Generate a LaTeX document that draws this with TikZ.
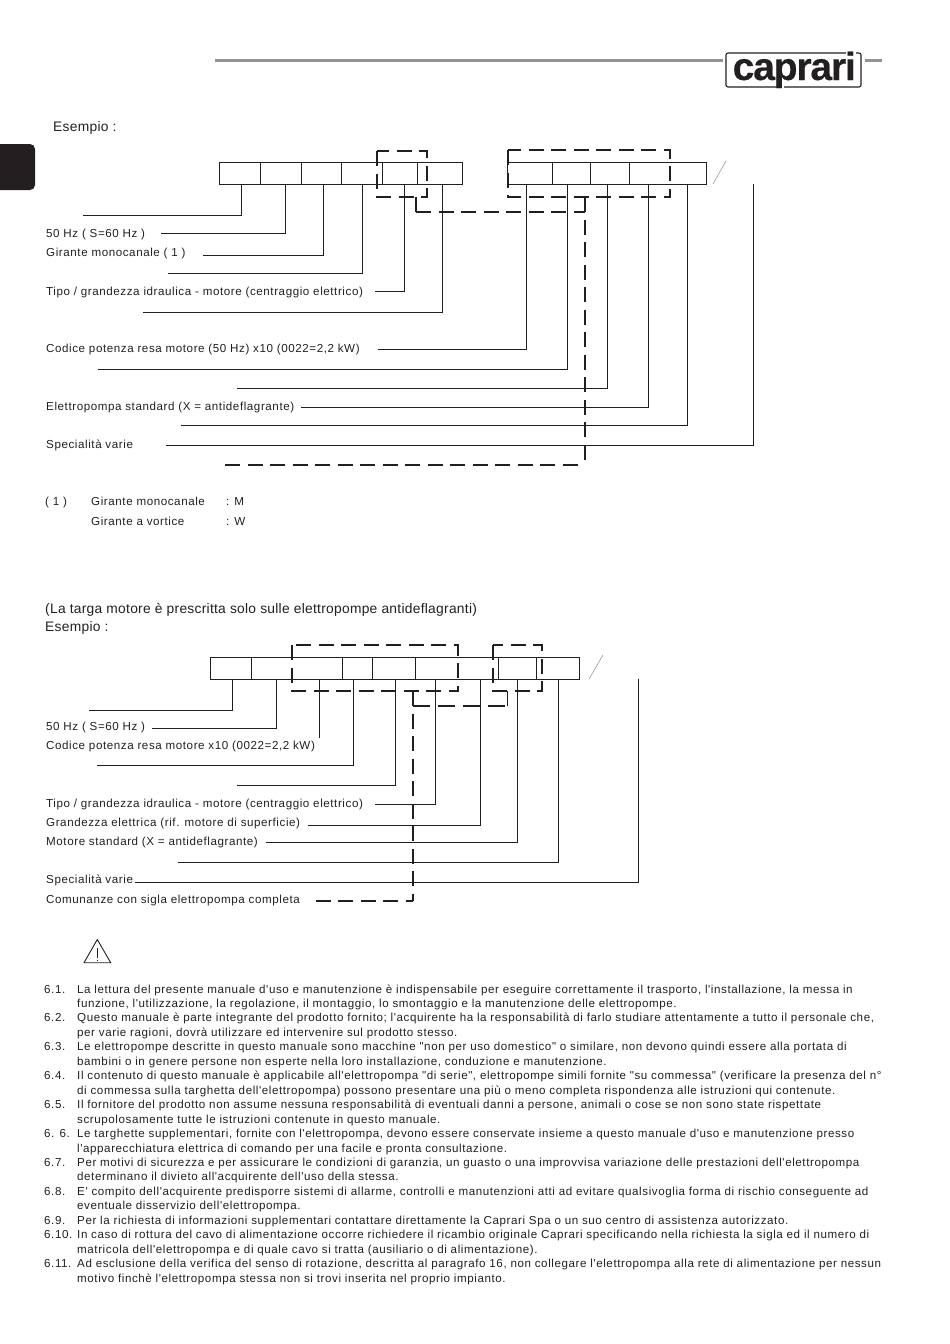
\documentclass[tikz,border=0pt]{standalone}
\usepackage{fontspec}
\setmainfont{Liberation Sans}[Ligatures=TeXOff,LetterSpace=2]
\newfontfamily\labelfont{Liberation Sans}[Ligatures=TeXOff,LetterSpace=5]
\newfontfamily\logofont{Liberation Sans Bold}[Ligatures=TeXOff,LetterSpace=-3,FakeBold=0.4]
\definecolor{ink}{HTML}{231F20}
\definecolor{rulegrey}{HTML}{939393}
\begin{document}
\begin{tikzpicture}[
    x=1pt, y=-1pt,
    every node/.style={text=ink},
    cell/.style={rectangle, draw=ink, line width=0.7pt, inner sep=0pt, minimum height=22pt},
    lead/.style={draw=ink, line width=0.7pt},
    group/.style={draw=ink, line width=1.4pt, dash pattern=on 15pt off 7.5pt},
    slash/.style={draw=ink!60, line width=0.4pt},
    head/.style={draw=rulegrey, line width=2.6pt},
    label/.style={anchor=base west, inner sep=0pt, font=\labelfont\fontsize{11.6}{13}\selectfont},
    title/.style={anchor=base west, inner sep=0pt, font=\fontsize{13.8}{15}\selectfont},
    body/.style={anchor=base west, inner sep=0pt, font=\labelfont\fontsize{11.6}{13}\selectfont}
  ]
  \useasboundingbox (0,0) rectangle (950,1344);
  \fill[ink, rounded corners=5pt] (-8,144) rectangle (35,190);
  \coordinate (h1) at (214.5,60.5);
  \coordinate (h2) at (722.5,60.5);
  \coordinate (h3) at (865,60.5);
  \coordinate (h4) at (882,60.5);
  \draw[head] (h1) -- (h2);
  \draw[head] (h3) -- (h4);
  \node[anchor=base west, inner sep=0pt, font=\logofont\fontsize{39}{39}\selectfont] (logo) at (732.5,80) {caprari};
  \draw[ink, line width=1.1pt, rounded corners=2pt] (777,87) -- (726,87) -- (726,53) -- (846,53);
  \draw[ink, line width=1.1pt, rounded corners=2pt] (856,53) -- (861,53) -- (861,87) -- (784,87);
  \node[title] (ex1) at (53,131) {Esempio :};
  \node[cell, minimum width=41pt] (a1) at (240,173.5) {};
  \node[cell, minimum width=41pt] (a2) at (281,173.5) {};
  \node[cell, minimum width=40pt] (a3) at (321,173.5) {};
  \node[cell, minimum width=41pt] (a4) at (361.5,173.5) {};
  \node[cell, minimum width=35pt] (a5) at (399.5,173.5) {};
  \node[cell, minimum width=45pt] (a6) at (439.5,173.5) {};
  \node[cell, minimum width=45pt] (b1) at (530,173.5) {};
  \node[cell, minimum width=38.5pt] (b2) at (571.5,173.5) {};
  \node[cell, minimum width=38.5pt] (b3) at (610,173.5) {};
  \node[cell, minimum width=77pt] (b4) at (667.5,173.5) {};
  \draw[group] (377,151) rectangle (427,197);
  \draw[group] (508,150) rectangle (670,197);
  \coordinate (g1) at (416,197);
  \coordinate (g1b) at (416,212);
  \coordinate (g2) at (585,197);
  \coordinate (g2b) at (585,212);
  \coordinate (g3) at (225,465);
  \coordinate (g3b) at (585,465);
  \draw[group] (g1) -- (g1b);
  \draw[group] (g1b) -- (g2b);
  \draw[group] (g2) -- (g3b);
  \draw[group] (g3) -- (g3b);
  \coordinate (s1) at (713,184);
  \coordinate (s2) at (726,161);
  \draw[slash] (s1) -- (s2);
  \coordinate (e1) at (83,215);
  \coordinate (e2) at (161,233);
  \coordinate (e3) at (203,255);
  \coordinate (e4) at (168,273);
  \coordinate (e5) at (374.5,291);
  \coordinate (e6) at (142.5,312);
  \coordinate (e7) at (378,349);
  \coordinate (e8) at (98,369);
  \coordinate (e9) at (237,388);
  \coordinate (e10) at (301,407.5);
  \coordinate (e11) at (181,425.5);
  \coordinate (e12) at (166,445);
  \coordinate (t12) at (753.5,184);
  \draw[lead] (241.5,184.5) |- (e1);
  \draw[lead] (285.5,184.5) |- (e2);
  \draw[lead] (323.5,184.5) |- (e3);
  \draw[lead] (362.5,184.5) |- (e4);
  \draw[lead] (404.5,184.5) |- (e5);
  \draw[lead] (442.5,184.5) |- (e6);
  \draw[lead] (526.5,184.5) |- (e7);
  \draw[lead] (567.5,184.5) |- (e8);
  \draw[lead] (607.5,184.5) |- (e9);
  \draw[lead] (648.5,184.5) |- (e10);
  \draw[lead] (687.5,184.5) |- (e11);
  \draw[lead] (t12) |- (e12);
  \node[label] (l1) at (46,237) {50 Hz ( S=60 Hz )};
  \node[label] (l2) at (46,256) {Girante monocanale ( 1 )};
  \node[label] (l3) at (46,295) {Tipo / grandezza idraulica - motore (centraggio elettrico)};
  \node[label] (l4) at (46,352.5) {Codice potenza resa motore (50 Hz) x10 (0022=2,2 kW)};
  \node[label] (l5) at (46,410) {Elettropompa standard (X = antideflagrante)};
  \node[label] (l6) at (46,448) {Specialità varie};
  \node[label] (n1) at (45,505) {( 1 )};
  \node[label] (n2) at (91,505) {Girante monocanale};
  \node[label] (n3) at (226,505) {: M};
  \node[label] (n4) at (91,525) {Girante a vortice};
  \node[label] (n5) at (226,525) {: W};
  \node[title] (tg) at (45,613) {(La targa motore è prescritta solo sulle elettropompe antideflagranti)};
  \node[title] (ex2) at (45,631) {Esempio :};
  \node[cell, minimum width=41pt] (c1) at (231,668.5) {};
  \node[cell, minimum width=91pt] (c2) at (296.5,668.5) {};
  \node[cell, minimum width=30pt] (c3) at (357.5,668.5) {};
  \node[cell, minimum width=43pt] (c4) at (394,668.5) {};
  \node[cell, minimum width=83pt] (c5) at (457,668.5) {};
  \node[cell, minimum width=38.5pt] (c6) at (517.5,668.5) {};
  \node[cell, minimum width=42.5pt] (c7) at (558,668.5) {};
  \draw[group] (292,645) rectangle (458,691);
  \draw[group] (493,645) rectangle (542,691);
  \coordinate (g4) at (507.5,691);
  \coordinate (g4b) at (507.5,706);
  \coordinate (g5) at (413,691);
  \coordinate (g5b) at (413,706);
  \coordinate (g6) at (315.5,901);
  \coordinate (g6b) at (413,901);
  \draw[group] (g4) -- (g4b);
  \draw[group, dash pattern=on 17pt off 8pt] (g5b) -- (g4b);
  \draw[group] (g5) -- (g6b);
  \draw[group] (g6) -- (g6b);
  \coordinate (s3) at (589,679);
  \coordinate (s4) at (603,655);
  \draw[slash] (s3) -- (s4);
  \coordinate (f1) at (89,710.5);
  \coordinate (f2) at (152,728.5);
  \coordinate (f3) at (319.5,738);
  \coordinate (f4) at (97,765.5);
  \coordinate (f5) at (237,785.5);
  \coordinate (f6) at (375,804);
  \coordinate (f7) at (308,825.5);
  \coordinate (f8) at (266,842);
  \coordinate (f9) at (178,862.5);
  \coordinate (f10) at (135,882.5);
  \coordinate (t10) at (638.5,678.5);
  \draw[lead] (232.5,679.5) |- (f1);
  \draw[lead] (276.5,679.5) |- (f2);
  \draw[lead] (319.5,679.5) -- (f3);
  \draw[lead] (353.5,679.5) |- (f4);
  \draw[lead] (395.5,679.5) |- (f5);
  \draw[lead] (435.5,679.5) |- (f6);
  \draw[lead] (480.5,679.5) |- (f7);
  \draw[lead] (517.5,679.5) |- (f8);
  \draw[lead] (558.5,679.5) |- (f9);
  \draw[lead] (t10) |- (f10);
  \node[label] (m1) at (46,730) {50 Hz ( S=60 Hz )};
  \node[label] (m2) at (46,749) {Codice potenza resa motore x10 (0022=2,2 kW)};
  \node[label] (m3) at (46,807) {Tipo / grandezza idraulica - motore (centraggio elettrico)};
  \node[label] (m4) at (46,826) {Grandezza elettrica (rif. motore di superficie)};
  \node[label] (m5) at (46,845) {Motore standard (X = antideflagrante)};
  \node[label] (m6) at (46,883) {Specialità varie};
  \node[label] (m7) at (46,903) {Comunanze con sigla elettropompa completa};
  \coordinate (w1) at (97.3,939.5);
  \coordinate (w2) at (84,962.7);
  \coordinate (w3) at (110.7,962.7);
  \draw[ink, line width=0.9pt, line join=round] (w1) -- (w2) -- (w3) -- cycle;
  \draw[ink, line width=0.6pt] (97.3,948) -- (97.3,957.5) (97.3,959.5) -- (97.3,961);
  \node[body] (p1) at (44,993) {6.1.};
  \node[body] (q1) at (77,993) {La lettura del presente manuale d'uso e manutenzione è indispensabile per eseguire correttamente il trasporto, l'installazione, la messa in};
  \node[body] (q2) at (77,1007.5) {funzione, l'utilizzazione, la regolazione, il montaggio, lo smontaggio e la manutenzione delle elettropompe.};
  \node[body] (p3) at (44,1021.9) {6.2.};
  \node[body] (q3) at (77,1021.9) {Questo manuale è parte integrante del prodotto fornito; l'acquirente ha la responsabilità di farlo studiare attentamente a tutto il personale che,};
  \node[body] (q4) at (77,1036.4) {per varie ragioni, dovrà utilizzare ed intervenire sul prodotto stesso.};
  \node[body] (p5) at (44,1050.8) {6.3.};
  \node[body] (q5) at (77,1050.8) {Le elettropompe descritte in questo manuale sono macchine "non per uso domestico" o similare, non devono quindi essere alla portata di};
  \node[body] (q6) at (77,1065.3) {bambini o in genere persone non esperte nella loro installazione, conduzione e manutenzione.};
  \node[body] (p7) at (44,1079.7) {6.4.};
  \node[body] (q7) at (77,1079.7) {Il contenuto di questo manuale è applicabile all'elettropompa "di serie", elettropompe simili fornite "su commessa" (verificare la presenza del n°};
  \node[body] (q8) at (77,1094.2) {di commessa sulla targhetta dell'elettropompa) possono presentare una più o meno completa rispondenza alle istruzioni qui contenute.};
  \node[body] (p9) at (44,1108.6) {6.5.};
  \node[body] (q9) at (77,1108.6) {Il fornitore del prodotto non assume nessuna responsabilità di eventuali danni a persone, animali o cose se non sono state rispettate};
  \node[body] (q10) at (77,1123.1) {scrupolosamente tutte le istruzioni contenute in questo manuale.};
  \node[body] (p11) at (44,1137.5) {6. 6.};
  \node[body] (q11) at (77,1137.5) {Le targhette supplementari, fornite con l'elettropompa, devono essere conservate insieme a questo manuale d'uso e manutenzione presso};
  \node[body] (q12) at (77,1152) {l'apparecchiatura elettrica di comando per una facile e pronta consultazione.};
  \node[body] (p13) at (44,1166.4) {6.7.};
  \node[body] (q13) at (77,1166.4) {Per motivi di sicurezza e per assicurare le condizioni di garanzia, un guasto o una improvvisa variazione delle prestazioni dell'elettropompa};
  \node[body] (q14) at (77,1180.9) {determinano il divieto all'acquirente dell'uso della stessa.};
  \node[body] (p15) at (44,1195.3) {6.8.};
  \node[body] (q15) at (77,1195.3) {E' compito dell'acquirente predisporre sistemi di allarme, controlli e manutenzioni atti ad evitare qualsivoglia forma di rischio conseguente ad};
  \node[body] (q16) at (77,1209.8) {eventuale disservizio dell'elettropompa.};
  \node[body] (p17) at (44,1224.2) {6.9.};
  \node[body] (q17) at (77,1224.2) {Per la richiesta di informazioni supplementari contattare direttamente la Caprari Spa o un suo centro di assistenza autorizzato.};
  \node[body] (p18) at (44,1238.7) {6.10.};
  \node[body] (q18) at (77,1238.7) {In caso di rottura del cavo di alimentazione occorre richiedere il ricambio originale Caprari specificando nella richiesta la sigla ed il numero di};
  \node[body] (q19) at (77,1253.1) {matricola dell'elettropompa e di quale cavo si tratta (ausiliario o di alimentazione).};
  \node[body] (p20) at (44,1267.6) {6.11.};
  \node[body] (q20) at (77,1267.6) {Ad esclusione della verifica del senso di rotazione, descritta al paragrafo 16, non collegare l'elettropompa alla rete di alimentazione per nessun};
  \node[body] (q21) at (77,1282) {motivo finchè l'elettropompa stessa non si trovi inserita nel proprio impianto.};
\end{tikzpicture}
\end{document}
